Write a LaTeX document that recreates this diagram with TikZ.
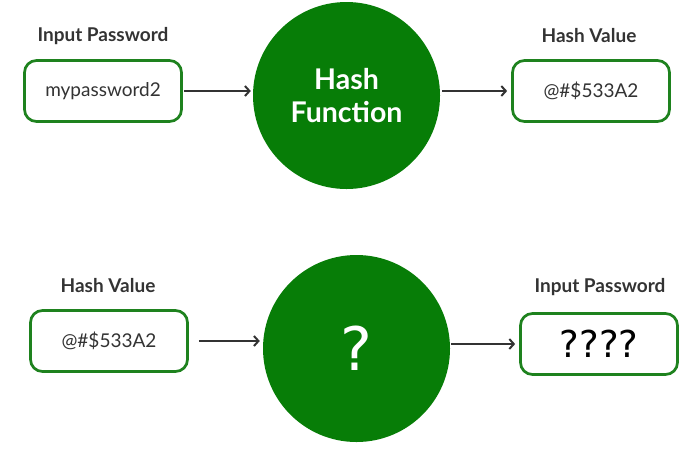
\documentclass[tikz,border=0pt]{standalone}
\usepackage{fontspec}
\setmainfont{Lato}
\newfontfamily\qfont{DejaVu Sans}
\usetikzlibrary{arrows.meta}
\usepackage[dvipsnames]{xcolor}
\definecolor{hashgreen}{HTML}{077D07}
\definecolor{boxgreen}{HTML}{1E821E}
\definecolor{inkgray}{HTML}{333333}

\tikzset{
  valbox/.style={draw=boxgreen, line width=2.7pt, rounded corners=12pt,
    minimum width=157pt, minimum height=61pt, fill=white,
    text=inkgray, font=\fontsize{19}{21}\selectfont},
  hashdisc/.style={circle, fill=hashgreen, minimum size=187pt, inner sep=0pt,
    text=white},
  caption/.style={text=inkgray, font=\bfseries\fontsize{19}{21}\selectfont},
  flow/.style={draw=inkgray, line width=2pt,
    -{Straight Barb[length=4.5pt,width=10pt,line width=2pt]}}
}

\begin{document}
\begin{tikzpicture}[x=1pt,y=-1pt]
\useasboundingbox (0,0) rectangle (695,459);
% forward direction
\node[caption] (cap1) at (103,36) {Input Password};
\node[valbox] (pw) at (103,91) {mypassword2};
\node[hashdisc, font=\bfseries\fontsize{28.5}{33}\selectfont, align=center] (hash) at (346.5,95.5) {Hash\\Function};
\node[caption] (cap2) at (589,36) {Hash Value};
\node[valbox] (hv) at (591,91) {@\#\$533A2};
\draw[flow, shorten <=1pt, shorten >=2pt] (pw.east) -- (pw.east -| hash.west);
\draw[flow, shorten <=2pt, shorten >=4pt] (hash.east |- hv.west) -- (hv.west);
% reverse direction
\node[caption] (cap3) at (108,286) {Hash Value};
\node[valbox] (hv2) at (109,341) {@\#\$533A2};
\node[hashdisc, font=\qfont\fontsize{60}{60}\selectfont] (inv) at (356.5,348.5) {?};
\node[caption] (cap4) at (600,287) {Input Password};
\node[valbox, text=black, font=\qfont\fontsize{37}{37}\selectfont] (pw2) at (599,344) {????};
\draw[flow, shorten <=10pt, shorten >=3pt] (hv2.east) -- (hv2.east -| inv.west);
\draw[flow, shorten <=1pt, shorten >=4pt] (inv.east |- pw2.west) -- (pw2.west);
\end{tikzpicture}
\end{document}
